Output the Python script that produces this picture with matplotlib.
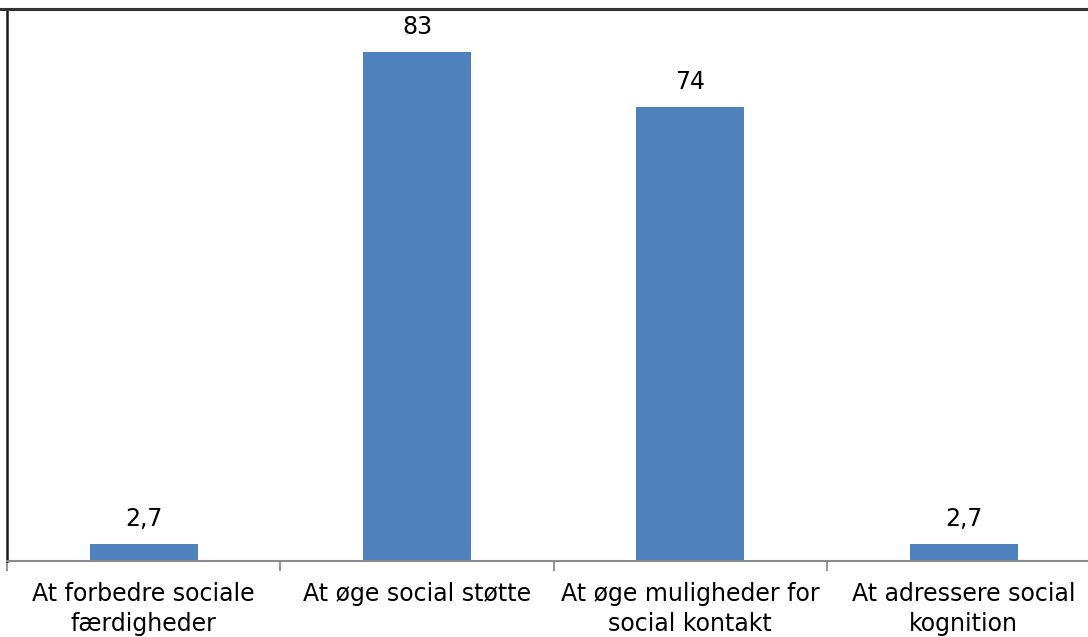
import matplotlib
matplotlib.use("Agg")
import matplotlib.pyplot as plt
from matplotlib.lines import Line2D

categories = [
    "At forbedre sociale\nfærdigheder",
    "At øge social støtte",
    "At øge muligheder for\nsocial kontakt",
    "At adressere social\nkognition",
]
values = [2.7, 83, 74, 2.7]
value_labels = ["2,7", "83", "74", "2,7"]

W, H = 1088, 637
fig = plt.figure(figsize=(W / 100, H / 100), dpi=100)
fig.patch.set_facecolor("white")

# plot area: left edge at x=7, bottom at y=561, top at y=9; category width ~273 px
left = 7 / W
bottom = (H - 561) / H
top = (H - 9) / H
width = (4 * 273.3) / W
ax = fig.add_axes([left, bottom, width, top - bottom])

x = list(range(len(categories)))
ax.bar(x, values, width=0.395, color="#4F81BD", zorder=2)
ax.set_xlim(-0.5, len(categories) - 0.5)
ax.set_ylim(0, 90)

for xi, v, lab in zip(x, values, value_labels):
    ax.annotate(lab, (xi, v), xytext=(0, 9.5), textcoords="offset points",
                ha="center", va="bottom", fontsize=17, color="#000000",
                family="DejaVu Sans")

ax.set_yticks([])
ax.set_xticks([i + 0.5 for i in range(-1, len(categories))])
ax.set_xticklabels([])
ax.tick_params(axis="x", direction="out", length=7, width=1.3, color="#8C8C8C")
ax.set_xticks(x, minor=True)
ax.set_xticklabels(categories, minor=True, fontsize=17, family="DejaVu Sans",
                   va="top", linespacing=1.32)
ax.tick_params(axis="x", which="minor", length=0, pad=15)

ax.spines["right"].set_visible(False)
ax.spines["top"].set_color("#333333")
ax.spines["top"].set_linewidth(2.2)
ax.spines["left"].set_color("#1a1a1a")
ax.spines["left"].set_linewidth(1.8)
ax.spines["bottom"].set_color("#8C8C8C")
ax.spines["bottom"].set_linewidth(1.5)

# frame line running across the full top edge
fig.add_artist(Line2D([0, 1], [top, top], transform=fig.transFigure,
                      color="#333333", linewidth=2.2))

fig.savefig("out.png", dpi=100, facecolor="white")
